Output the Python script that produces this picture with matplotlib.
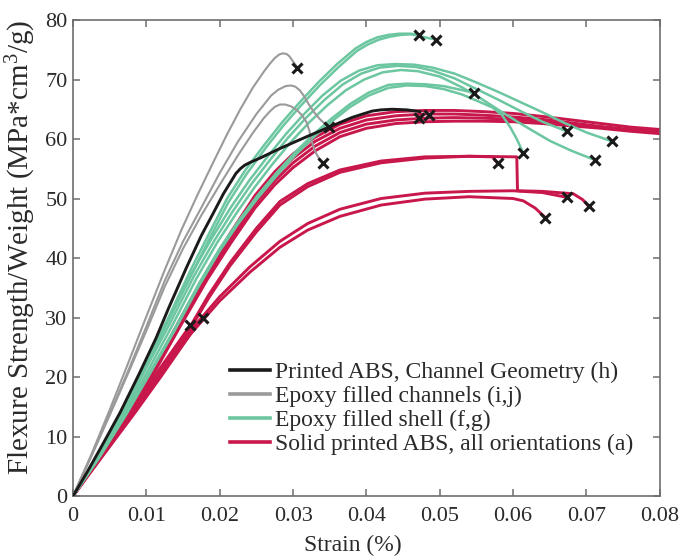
import matplotlib
matplotlib.use("Agg")
import matplotlib.pyplot as plt
from matplotlib.lines import Line2D

plt.rcParams["font.family"] = ["Liberation Serif", "DejaVu Serif"]
plt.rcParams["mathtext.fontset"] = "custom"
plt.rcParams["mathtext.rm"] = "Liberation Serif"
plt.rcParams["mathtext.it"] = "Liberation Serif:italic"

# ---- Printed ABS, channel geometry (h) ----
black_strain = [0, 0.002, 0.004, 0.0064, 0.009, 0.0113, 0.013, 0.0155, 0.0175, 0.0191,
                0.0205, 0.0214, 0.0222, 0.0228, 0.0234, 0.0242, 0.0255, 0.0282, 0.0315,
                0.0351, 0.038, 0.0395, 0.0408, 0.042, 0.0435, 0.0455, 0.0473]
black_stress = [0, 4.2, 8.6, 14.0, 20.5, 26.5, 31.5, 38.5, 43.8, 47.5,
                50.8, 52.6, 54.2, 55.0, 55.6, 56.1, 56.8, 58.4, 60.2,
                62.1, 63.6, 64.2, 64.7, 64.9, 65.0, 64.9, 64.6]

# ---- Epoxy filled channels (i,j) ----
gray1_strain = [0, 0.0025, 0.005, 0.0075, 0.010, 0.0125, 0.0148, 0.017, 0.019, 0.021,
                0.0228, 0.0245, 0.026, 0.0268, 0.0275, 0.0281, 0.0286, 0.0291, 0.0295,
                0.0299, 0.0303, 0.0306]
gray1_stress = [0, 7.0, 14.5, 22.3, 30.2, 38.0, 44.8, 50.7, 55.8, 60.8,
                65.0, 68.6, 71.3, 72.6, 73.6, 74.2, 74.4, 74.3, 73.9,
                73.2, 72.5, 72.0]
gray2_strain = [0, 0.0025, 0.005, 0.0075, 0.010, 0.0125, 0.015, 0.0175, 0.020, 0.0225,
                0.025, 0.027, 0.028, 0.029, 0.0297, 0.0303, 0.0309, 0.0315, 0.0321,
                0.0328, 0.0336, 0.0343, 0.0349]
gray2_stress = [0, 6.8, 13.8, 21.0, 28.5, 36.2, 42.8, 48.5, 54.3, 59.6,
                64.2, 67.3, 68.3, 68.9, 69.0, 68.8, 68.2, 67.2, 65.9,
                64.6, 63.4, 62.6, 62.1]
gray3_strain = [0, 0.0025, 0.005, 0.0075, 0.010, 0.0125, 0.015, 0.0175, 0.020, 0.0225,
                0.0245, 0.026, 0.0268, 0.0275, 0.0282, 0.0289, 0.0297, 0.0305, 0.0312,
                0.0318, 0.0322, 0.0325, 0.0329, 0.0334, 0.0341]
gray3_stress = [0, 6.7, 13.6, 20.6, 27.8, 35.2, 41.6, 47.2, 52.3, 57.3,
                61.0, 63.5, 64.6, 65.4, 65.8, 65.8, 65.5, 64.9, 64.0,
                62.9, 61.5, 59.8, 58.2, 57.0, 55.9]

# ---- Epoxy filled shell (f,g) ----
green1_strain = [0, 0.0035, 0.0068, 0.010, 0.013, 0.016, 0.0185, 0.021, 0.0235, 0.026,
                 0.0285, 0.031, 0.0335, 0.036, 0.0385, 0.040, 0.0415, 0.043, 0.0445,
                 0.046, 0.0472]
green1_stress = [0, 7.0, 14.4, 22.5, 30.0, 37.9, 44.0, 50.0, 54.8, 58.9,
                 62.8, 66.3, 69.6, 72.6, 75.2, 76.3, 77.1, 77.5, 77.7,
                 77.7, 77.5]
green2_strain = [0, 0.0035, 0.0069, 0.010, 0.013, 0.0162, 0.0187, 0.0212, 0.0237, 0.0262,
                 0.0287, 0.0312, 0.0337, 0.0362, 0.0387, 0.0402, 0.0417, 0.0432, 0.0447,
                 0.046, 0.047, 0.0483, 0.0495]
green2_stress = [0, 6.8, 14.0, 22.0, 29.5, 37.3, 43.5, 49.4, 54.2, 58.4,
                 62.3, 65.8, 69.1, 72.1, 74.8, 75.9, 76.7, 77.2, 77.5,
                 77.6, 77.4, 77.0, 76.7]
green3_strain = [0, 0.0035, 0.0069, 0.010, 0.013, 0.0162, 0.019, 0.0215, 0.024, 0.0265,
                 0.029, 0.0315, 0.034, 0.0365, 0.039, 0.0415, 0.044, 0.0465, 0.049,
                 0.052, 0.055, 0.058, 0.061, 0.064, 0.067, 0.070, 0.0735]
green3_stress = [0, 7.0, 14.4, 22.0, 29.5, 37.5, 43.5, 48.5, 53.0, 57.0,
                 60.8, 64.2, 67.3, 69.8, 71.5, 72.4, 72.6, 72.5, 72.0,
                 71.0, 69.5, 67.9, 66.2, 64.5, 62.7, 61.1, 59.6]
green4_strain = [0, 0.0035, 0.007, 0.010, 0.0132, 0.0165, 0.0193, 0.0218, 0.0243, 0.0268,
                 0.0293, 0.0318, 0.0343, 0.0368, 0.0393, 0.0418, 0.0443, 0.0468, 0.049,
                 0.052, 0.055, 0.058, 0.061, 0.064, 0.0673]
green4_stress = [0, 6.8, 14.2, 21.6, 29.0, 37.0, 43.0, 47.9, 52.4, 56.4,
                 60.2, 63.6, 66.6, 69.2, 71.0, 72.0, 72.3, 72.1, 71.5,
                 70.2, 68.4, 66.6, 64.7, 62.9, 61.3]
green5_strain = [0, 0.0035, 0.0071, 0.0103, 0.0135, 0.0168, 0.0196, 0.0222, 0.0247, 0.0272,
                 0.0297, 0.0322, 0.0347, 0.0372, 0.0397, 0.0422, 0.0447, 0.047, 0.050,
                 0.053, 0.0555, 0.058, 0.061, 0.065, 0.068, 0.0711]
green5_stress = [0, 6.7, 14.0, 21.3, 28.6, 36.5, 42.5, 47.4, 51.8, 55.8,
                 59.5, 62.8, 65.7, 68.2, 70.0, 71.2, 71.6, 71.4, 70.5,
                 68.7, 66.9, 64.9, 62.6, 59.7, 58.0, 56.5]
green6_strain = [0, 0.0036, 0.0072, 0.0105, 0.0138, 0.0172, 0.020, 0.0226, 0.0252, 0.0278,
                 0.0303, 0.0328, 0.0353, 0.0378, 0.0403, 0.043, 0.0455, 0.048, 0.0505,
                 0.0546]
green6_stress = [0, 6.6, 13.8, 20.9, 28.0, 35.8, 41.6, 46.3, 50.6, 54.4,
                 57.8, 60.8, 63.5, 65.9, 67.8, 69.1, 69.3, 69.2, 68.9,
                 67.8]
green7_strain = [0, 0.0036, 0.0072, 0.0105, 0.0138, 0.0172, 0.020, 0.0226, 0.0252, 0.0278,
                 0.0303, 0.0328, 0.0353, 0.0378, 0.0403, 0.043, 0.0455, 0.048, 0.0505,
                 0.053, 0.0555, 0.0572, 0.0585, 0.0596, 0.0605, 0.0614]
green7_stress = [0, 6.5, 13.6, 20.6, 27.7, 35.4, 41.2, 45.9, 50.1, 53.9,
                 57.3, 60.3, 63.0, 65.4, 67.3, 68.6, 69.0, 68.9, 68.4,
                 67.5, 66.2, 65.3, 64.0, 62.0, 60.0, 57.6]

# ---- Solid printed ABS, all orientations (a) ----
redA_strain = [0, 0.0035, 0.0075, 0.011, 0.0145, 0.0183, 0.0215, 0.0248, 0.0275, 0.030,
               0.033, 0.0364, 0.040, 0.044, 0.048, 0.052, 0.056, 0.060, 0.064, 0.068,
               0.072, 0.076, 0.080]
redA1_stress = [0, 6.8, 14.4, 21.5, 29.5, 37.9, 44.3, 50.5, 54.5, 57.5,
                60.3, 62.5, 63.9, 64.6, 64.8, 64.8, 64.6, 64.3, 63.8, 63.2,
                62.6, 62.0, 61.6]
redA2_stress = [0, 6.7, 14.2, 21.2, 29.1, 37.4, 43.7, 49.8, 53.8, 56.8,
                59.6, 61.8, 63.2, 63.9, 64.2, 64.2, 64.0, 63.7, 63.3, 62.7,
                62.1, 61.6, 61.3]
redA3_stress = [0, 6.6, 14.0, 20.9, 28.7, 36.9, 43.1, 49.1, 53.0, 56.0,
                58.8, 61.1, 62.5, 63.2, 63.5, 63.6, 63.5, 63.3, 63.0, 62.5,
                62.0, 61.5, 61.1]
redA4_stress = [0, 6.5, 13.8, 20.6, 28.3, 36.4, 42.5, 48.4, 52.3, 55.2,
                58.0, 60.4, 61.8, 62.6, 62.9, 63.0, 63.0, 62.9, 62.6, 62.2,
                61.8, 61.3, 60.9]

redB1_strain = [0, 0.004, 0.0082, 0.012, 0.0155, 0.0185, 0.0214, 0.025, 0.0282, 0.032,
                0.0364, 0.042, 0.048, 0.054, 0.0572, 0.0579]
redB1_stress = [0, 7.2, 14.4, 21.0, 27.5, 33.8, 39.2, 45.0, 49.5, 52.5,
                54.8, 56.3, 57.0, 57.1, 57.0, 55.9]
redB2_strain = [0, 0.004, 0.0082, 0.012, 0.0155, 0.0185, 0.0214, 0.025, 0.0282, 0.032,
                0.0364, 0.042, 0.048, 0.054, 0.0605, 0.0606, 0.064, 0.0682, 0.0695,
                0.0703]
redB2_stress = [0, 7.1, 14.2, 20.7, 27.1, 33.3, 38.7, 44.4, 48.9, 52.0,
                54.4, 56.0, 56.8, 57.1, 57.0, 51.3, 51.2, 50.8, 49.8,
                48.7]

redC1_strain = [0, 0.0042, 0.0085, 0.012, 0.016, 0.020, 0.0241, 0.0282, 0.032, 0.0364,
                0.042, 0.048, 0.054, 0.060, 0.064, 0.0673]
redC1_stress = [0, 7.2, 14.4, 20.5, 27.8, 33.5, 38.5, 42.8, 45.8, 48.2,
                50.0, 50.9, 51.2, 51.3, 51.0, 50.2]
redC2_strain = [0, 0.0042, 0.0085, 0.012, 0.016, 0.020, 0.0241, 0.0282, 0.032, 0.0364,
                0.042, 0.048, 0.054, 0.060, 0.0614, 0.063, 0.0644]
redC2_stress = [0, 7.0, 14.1, 20.1, 27.2, 32.8, 37.6, 41.8, 44.7, 47.0,
                48.9, 49.9, 50.3, 50.0, 49.6, 48.4, 46.8]

redE1_strain = [0, 0.004, 0.008, 0.012, 0.016]
redE1_stress = [0, 7.3, 14.5, 21.7, 28.7]
redE2_strain = [0, 0.0045, 0.009, 0.0135, 0.0177]
redE2_stress = [0, 7.8, 15.5, 23.1, 30.0]

# ---- specimen failure points ----
fail_strain = [0.0160, 0.0177, 0.0306, 0.0349, 0.0341, 0.0472, 0.0486, 0.0472, 0.0495,
               0.0546, 0.0579, 0.0614, 0.0644, 0.0673, 0.0673, 0.0703, 0.0711, 0.0735]
fail_stress = [28.7, 30.0, 72.0, 62.1, 55.9, 63.6, 64.1, 77.5, 76.7,
               67.8, 55.9, 57.6, 46.8, 61.3, 50.2, 48.7, 56.5, 59.6]

legend_labels = ["Printed ABS, Channel Geometry (h)",
                 "Epoxy filled channels (i,j)",
                 "Epoxy filled shell (f,g)",
                 "Solid printed ABS, all orientations (a)"]
x_ticks = [0, 0.01, 0.02, 0.03, 0.04, 0.05, 0.06, 0.07, 0.08]
x_tick_labels = ["0", "0.01", "0.02", "0.03", "0.04", "0.05", "0.06", "0.07", "0.08"]
y_ticks = [0, 10, 20, 30, 40, 50, 60, 70, 80]

C_BLACK = "#1a1a1a"
C_GRAY = "#9a9a9a"
C_GREEN = "#6cc7a1"
C_RED = "#c8174b"
C_TEXT = "#2a2a2a"
C_AXIS = "#6e6e6e"

fig = plt.figure(figsize=(6.83, 5.59), dpi=100)
ax = fig.add_axes([0.107, 0.1127, 0.859, 0.8515])

red_curves = [(redA_strain, redA1_stress), (redA_strain, redA2_stress),
              (redA_strain, redA3_stress), (redA_strain, redA4_stress),
              (redB1_strain, redB1_stress), (redB2_strain, redB2_stress),
              (redC1_strain, redC1_stress), (redC2_strain, redC2_stress),
              (redE1_strain, redE1_stress), (redE2_strain, redE2_stress)]
for xs, ys in red_curves:
    ax.plot(xs, ys, color=C_RED, lw=2.1, solid_joinstyle="round", zorder=2)

green_curves = [(green1_strain, green1_stress), (green2_strain, green2_stress),
                (green3_strain, green3_stress), (green4_strain, green4_stress),
                (green5_strain, green5_stress), (green6_strain, green6_stress),
                (green7_strain, green7_stress)]
for xs, ys in green_curves:
    ax.plot(xs, ys, color=C_GREEN, lw=1.8, solid_joinstyle="round", zorder=3)

for xs, ys in [(gray1_strain, gray1_stress), (gray2_strain, gray2_stress),
               (gray3_strain, gray3_stress)]:
    ax.plot(xs, ys, color=C_GRAY, lw=1.5, solid_joinstyle="round", zorder=4)

ax.plot(black_strain, black_stress, color=C_BLACK, lw=2.1, solid_joinstyle="round", zorder=5)

ax.plot(fail_strain, fail_stress, linestyle="none", marker="x", color="#1a1a1a",
        ms=7.5, mew=2.2, zorder=6)

ax.set_xlim(0, 0.08)
ax.set_ylim(0, 80)
ax.set_xticks(x_ticks)
ax.set_xticklabels(x_tick_labels)
ax.set_yticks(y_ticks)

for sp in ax.spines.values():
    sp.set_color(C_AXIS)
    sp.set_linewidth(1.2)
ax.tick_params(direction="in", length=5, width=1.1, color=C_AXIS,
               top=True, right=True, labelsize=16, labelcolor=C_TEXT)
ax.tick_params(axis="x", pad=8)
ax.tick_params(axis="y", pad=4)

ax.set_xlabel("Strain (%)", fontsize=17, color=C_TEXT)
ax.xaxis.set_label_coords(0.476, -0.082)
ax.set_ylabel("Flexure Strength/Weight (MPa*cm$^3$/g)", fontsize=21, color=C_TEXT)
ax.yaxis.set_label_coords(-0.059, 0.523)

handles = [Line2D([], [], color=c, lw=2.6) for c in (C_BLACK, C_GRAY, C_GREEN, C_RED)]
leg = ax.legend(handles, legend_labels, loc="center left", frameon=False, fontsize=17,
                handlelength=1.7, handletextpad=0.2, labelspacing=0.1,
                borderpad=0, borderaxespad=0,
                bbox_to_anchor=(0.2675, 0.184), labelcolor=C_TEXT)

fig.savefig("out.png", dpi=100)
